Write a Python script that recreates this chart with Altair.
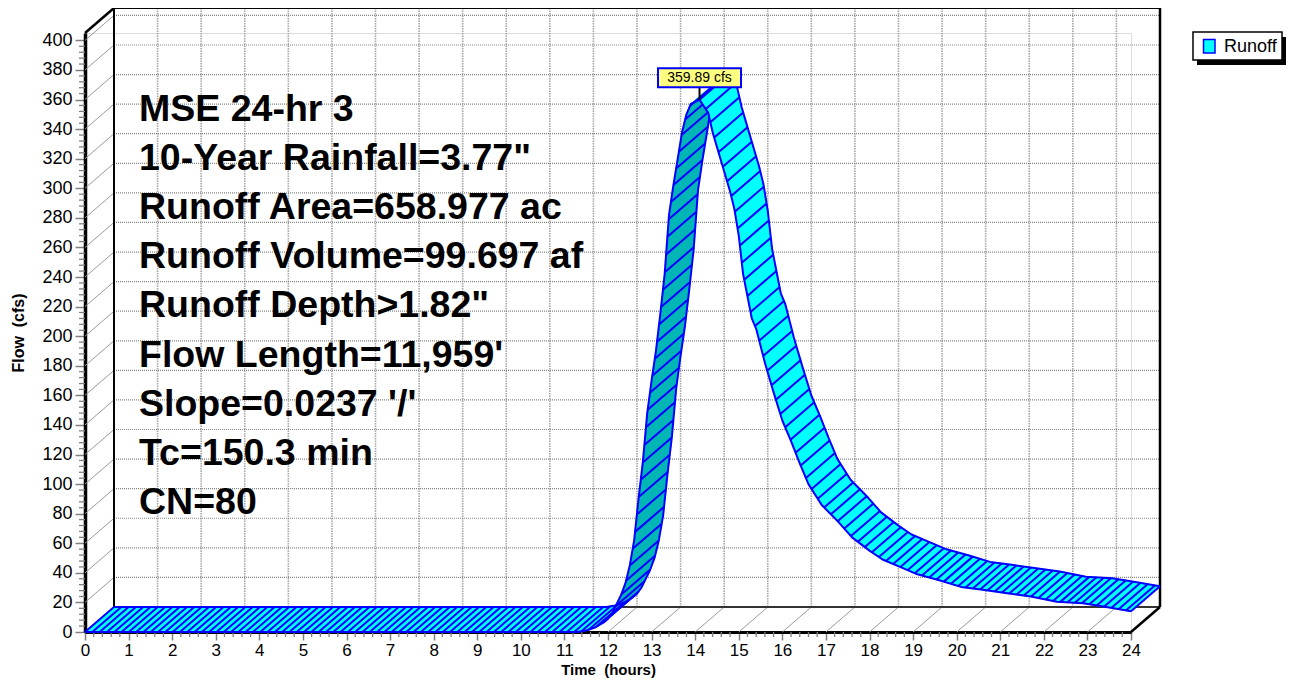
import math
import altair as alt
import pandas as pd

# ---------------- data ----------------
TIME_HR = [0.0, 11.3, 11.5, 11.7, 11.9, 12.0, 12.1, 12.2, 12.3, 12.4, 12.5, 12.6, 12.7,
           12.8, 12.9, 13.0, 13.1, 13.2, 13.3, 13.4, 13.5, 13.6, 13.7, 13.8, 13.9, 14.1,
           14.3, 14.4, 14.6, 14.8, 14.9, 15.0, 15.1, 15.3, 15.4, 15.6, 15.8, 16.0, 16.2,
           16.4, 16.6, 16.9, 17.3, 17.6, 18.0, 18.3, 18.7, 19.1, 19.6, 20.1, 20.6, 21.2,
           21.7, 22.3, 22.9, 23.4, 24.0]
FLOW_CFS = [0, 0, 1, 3, 6.5, 9, 13, 19, 25, 33, 45, 62, 90,
            115, 148, 170, 190, 215, 242, 282, 302, 320, 338, 350, 357, 359.89,
            351, 338, 318, 298, 286, 268, 242, 212, 205, 182, 162, 143, 129,
            114, 100, 86, 74, 64, 55, 49, 44, 39, 35, 30.5, 28.5, 26,
            24, 20.5, 19.5, 17, 14]
assert len(TIME_HR) == len(FLOW_CFS)

PEAK_LABEL = "359.89 cfs"
X_TICKS = list(range(0, 25))
Y_TICKS = list(range(0, 401, 20))
INFO_LINES = [
    "MSE 24-hr 3",
    '10-Year Rainfall=3.77"',
    "Runoff Area=658.977 ac",
    "Runoff Volume=99.697 af",
    'Runoff Depth>1.82"',
    "Flow Length=11,959'",
    "Slope=0.0237 '/'",
    "Tc=150.3 min",
    "CN=80",
]
LEGEND_LABEL = "Runoff"
X_TITLE = "Time \u00a0(hours)"
Y_TITLE = "Flow \u00a0(cfs)"

# ---------------- layout / style ----------------
FONT = "Liberation Sans"
W, H = 1046, 599
XMAX, YMAX = 24, 405
DXP, DYP = 29.0, 25.0           # 3-D depth offset in pixels
PXX, PXY = W / XMAX, H / YMAX
DX, DY = DXP / PXX, DYP / PXY   # same offset in data units

BLUE = "#0000FF"
CYAN = "#00FFFF"
TEAL = "#00B5B5"

XS = alt.Scale(domain=[0, XMAX], nice=False, zero=False)
YS = alt.Scale(domain=[0, YMAX], nice=False, zero=False)
XAX = alt.Axis(values=X_TICKS, title=X_TITLE, titleFont=FONT, titleFontSize=15,
               titleFontWeight="bold", titleY=37.5, titleBaseline="middle", titleColor="black",
               labelFont=FONT, labelFontSize=17, labelColor="black", labelPadding=2,
               labelAngle=0, labelFlush=False, labelOverlap=False, format="d",
               tickSize=8, tickColor="#808080", tickWidth=1.5,
               domainColor="black", domainWidth=3, grid=False)
YAX = alt.Axis(values=Y_TICKS, title=Y_TITLE, titleFont=FONT, titleFontSize=16,
               titleFontWeight="bold", titleX=-67, titleY=H / 2, titleBaseline="middle",
               titleAngle=270, titleColor="black",
               labelFont=FONT, labelFontSize=18, labelColor="black", labelPadding=3,
               labelOverlap=False, format="d",
               tickSize=10, tickColor="#808080", tickWidth=1.5,
               domainColor="black", domainWidth=3.5, grid=False)


def X(f):
    return alt.X(f, type="quantitative", scale=XS, axis=XAX)


def Y(f):
    return alt.Y(f, type="quantitative", scale=YS, axis=YAX)


# ---------------- walls, grid, floor ----------------
grid_rows = []
for h in X_TICKS[1:-1]:
    grid_rows.append(dict(x1=h + DX, y1=DY, x2=h + DX, y2=YMAX + DY, kind="v"))
for v in Y_TICKS[1:]:
    grid_rows.append(dict(x1=DX, y1=v + DY, x2=XMAX + DX, y2=v + DY, kind="h"))
grid_df = pd.DataFrame(grid_rows)

thin_rows = []
for h in X_TICKS[1:-1]:
    thin_rows.append(dict(x1=h, y1=0, x2=h + DX, y2=DY))
for v in Y_TICKS[1:]:
    thin_rows.append(dict(x1=0, y1=v, x2=DX, y2=v + DY))
thin_df = pd.DataFrame(thin_rows)

edge_df = pd.DataFrame([
    dict(x1=DX, y1=DY, x2=XMAX + DX, y2=DY, c="#333333", w=2),
    dict(x1=DX, y1=DY, x2=DX, y2=YMAX + DY, c="black", w=2),
    dict(x1=DX, y1=YMAX + DY, x2=XMAX + DX, y2=YMAX + DY, c="black", w=2),
    dict(x1=XMAX + DX, y1=DY, x2=XMAX + DX, y2=YMAX + DY, c="black", w=2.5),
    dict(x1=XMAX, y1=0, x2=XMAX + DX, y2=DY, c="black", w=2.5),
    dict(x1=0, y1=YMAX, x2=DX, y2=YMAX + DY, c="black", w=2.5),
])


def rules(df, **kw):
    return alt.Chart(df).mark_rule(**kw).encode(
        x=X("x1"), x2=alt.X2("x2"), y=Y("y1"), y2=alt.Y2("y2"))


grid_v = rules(grid_df[grid_df.kind == "v"], color="#a6a6a6", strokeWidth=1.6, strokeDash=[1.5, 1])
grid_h = rules(grid_df[grid_df.kind == "h"], color="#858585", strokeWidth=1.2, strokeDash=[1, 1])
thin = rules(thin_df, color="#9a9a9a", strokeWidth=1)
edges = alt.Chart(edge_df).mark_rule().encode(
    x=X("x1"), x2=alt.X2("x2"), y=Y("y1"), y2=alt.Y2("y2"),
    color=alt.Color("c:N", scale=None), strokeWidth=alt.StrokeWidth("w:Q", scale=None))

# minor ticks
minor_x = pd.DataFrame({"t": [k * 0.2 for k in range(0, 121) if k % 5]})
minor_y = pd.DataFrame({"v": [k * 4 for k in range(0, 101) if k % 5]})
mx = alt.Chart(minor_x).mark_rule(color="#808080", strokeWidth=1.3).encode(
    x=X("t"), y=alt.value(H), y2=alt.value(H + 5))
my = alt.Chart(minor_y).mark_rule(color="#808080", strokeWidth=1.3).encode(
    y=Y("v"), x=alt.value(-6), x2=alt.value(0))

# ---------------- ribbon ----------------
ip = FLOW_CFS.index(max(FLOW_CFS))


def quads(i0, i1):
    rows = []
    for i in range(i0, i1):
        t0, q0, t1, q1 = TIME_HR[i], FLOW_CFS[i], TIME_HR[i + 1], FLOW_CFS[i + 1]
        ex = (t1 - t0) * PXX
        ey = -(q1 - q0) * PXY
        cross = ex * (-DYP) - ey * DXP
        shade = "teal" if cross > 0 else "cyan"
        verts = [(t0, q0), (t1, q1), (t1 + DX, q1 + DY), (t0 + DX, q0 + DY), (t0, q0)]
        for k, (t, q) in enumerate(verts):
            rows.append(dict(seg=i, k=k, t=t, q=q, shade=shade))
    return pd.DataFrame(rows)


def outline(i0, i1):
    rows = []
    for i in range(i0, i1 + 1):
        rows.append(dict(edge="front", k=i, t=TIME_HR[i], q=FLOW_CFS[i]))
        rows.append(dict(edge="back", k=i, t=TIME_HR[i] + DX, q=FLOW_CFS[i] + DY))
    return pd.DataFrame(rows)


def hatch(i0, i1, sx=7.3, sy=18.0):
    # hatch pattern placed along the drawn polyline (fill style)
    pts = [(TIME_HR[i0], FLOW_CFS[i0])]
    since = 0.0
    for i in range(i0, i1):
        t0, q0, t1, q1 = TIME_HR[i], FLOW_CFS[i], TIME_HR[i + 1], FLOW_CFS[i + 1]
        m = math.hypot((t1 - t0) * PXX / sx, (q1 - q0) * PXY / sy)
        d = 1.0 - since
        last = -since
        while d <= m:
            f = d / m
            pts.append((t0 + f * (t1 - t0), q0 + f * (q1 - q0)))
            last = d
            d += 1.0
        since = m - last
    if since < 0.4 and len(pts) > 1:
        pts.pop()
    pts.append((TIME_HR[i1], FLOW_CFS[i1]))
    return pd.DataFrame([dict(x1=t, y1=q, x2=t + DX, y2=q + DY) for t, q in pts])


def ribbon_layers(i0, i1):
    qd = quads(i0, i1)
    out = []
    for shade, col in (("cyan", CYAN), ("teal", TEAL)):
        sub = qd[qd.shade == shade]
        if len(sub):
            out.append(alt.Chart(sub).mark_line(fill=col, stroke=col, strokeWidth=0.8,
                                                 strokeJoin="round").encode(
                x=X("t"), y=Y("q"), detail="seg:N", order="k:Q"))
    out.append(alt.Chart(outline(i0, i1)).mark_line(color=BLUE, strokeWidth=2,
                                                      strokeJoin="round").encode(
        x=X("t"), y=Y("q"), detail="edge:N", order="k:Q"))
    out.append(rules(hatch(i0, i1), color=BLUE, strokeWidth=2))
    return out


rise = ribbon_layers(0, ip)
fall = ribbon_layers(ip, len(TIME_HR) - 1)

# ---------------- peak label ----------------
peak_df = pd.DataFrame({"t": [TIME_HR[ip]], "q": [FLOW_CFS[ip]], "label": [PEAK_LABEL]})
BOX = "M-1,-0.229L1,-0.229L1,0.229L-1,0.229Z"
peak_rule = alt.Chart(peak_df).mark_rule(color="black", strokeWidth=2, y2Offset=-13).encode(
    x=X("t"), y=Y("q"), y2=alt.Y2("q"))
peak_box = alt.Chart(peak_df).mark_point(shape=BOX, size=83 * 83, filled=True, fill="#FFFF80",
                                         stroke=BLUE, strokeWidth=2, opacity=1,
                                         yOffset=-22).encode(x=X("t"), y=Y("q"))
peak_text = alt.Chart(peak_df).mark_text(font=FONT, fontSize=14, color="black", align="center",
                                         baseline="middle", yOffset=-22).encode(
    x=X("t"), y=Y("q"), text="label:N")

# ---------------- info text ----------------
one = pd.DataFrame({"a": [0]})
info = alt.Chart(one).mark_text(font=FONT, fontSize=37.5, fontWeight="bold", color="black",
                                align="left", baseline="alphabetic", lineBreak="\n",
                                lineHeight=49.2).encode(
    x=alt.value(54), y=alt.value(87.5), text=alt.value("\n".join(INFO_LINES)))

# ---------------- legend ----------------
leg_shadow = alt.Chart(one).mark_rect(color="black").encode(
    x=alt.value(1112), x2=alt.value(1201), y=alt.value(4), y2=alt.value(32))
leg_box = alt.Chart(one).mark_rect(fill="white", stroke="black", strokeWidth=1.5).encode(
    x=alt.value(1108), x2=alt.value(1197), y=alt.value(-1), y2=alt.value(27))
leg_sw = alt.Chart(one).mark_rect(fill=CYAN, stroke=BLUE, strokeWidth=1.5).encode(
    x=alt.value(1118.5), x2=alt.value(1130), y=alt.value(6.5), y2=alt.value(20))
leg_txt = alt.Chart(one).mark_text(font=FONT, fontSize=18, color="black", align="left",
                                   baseline="middle").encode(
    x=alt.value(1139), y=alt.value(13.5), text=alt.value(LEGEND_LABEL))

layers = [grid_v, grid_h, thin, edges, mx, my, info] + rise + fall + [
    peak_rule, peak_box, peak_text, leg_shadow, leg_box, leg_sw, leg_txt]

chart = alt.layer(*layers).properties(
    width=W, height=H,
    padding={"left": 77, "top": 25, "right": 155, "bottom": 46},
    autosize=alt.AutoSizeParams(type="none"),
    background="white",
).configure_view(stroke=None).configure(font=FONT)

chart.save("out.html", embed_options={"renderer": "svg", "actions": False})
